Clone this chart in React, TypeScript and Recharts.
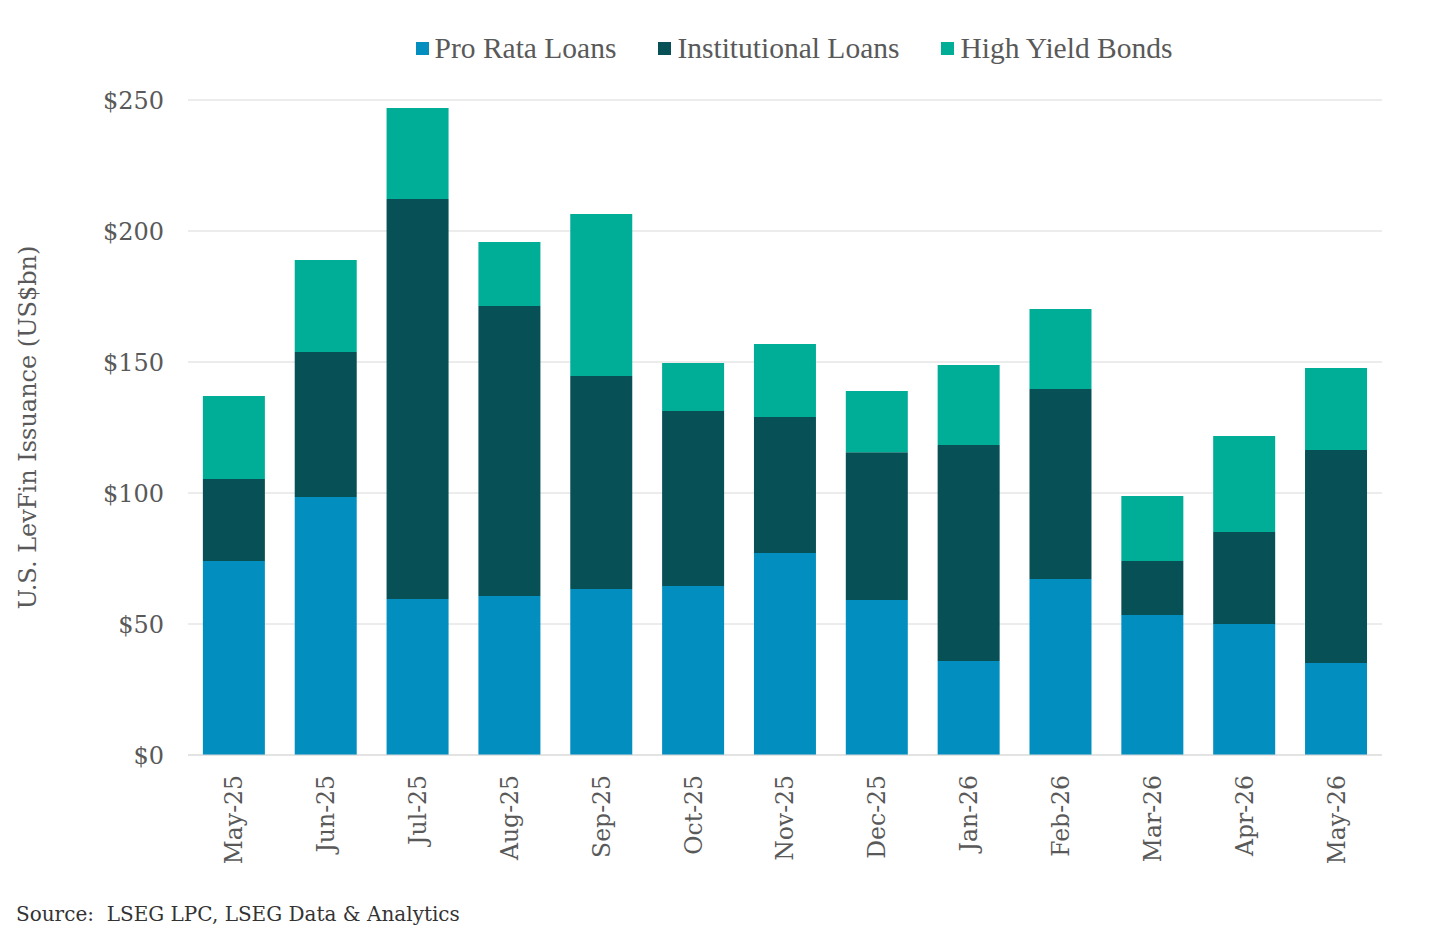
import { BarChart, Bar, XAxis, YAxis, CartesianGrid } from 'recharts';

const MONTHS = ['May-25', 'Jun-25', 'Jul-25', 'Aug-25', 'Sep-25', 'Oct-25', 'Nov-25', 'Dec-25', 'Jan-26', 'Feb-26', 'Mar-26', 'Apr-26', 'May-26'];
const PRO_RATA = [74.0, 98.5, 59.5, 60.7, 63.4, 64.5, 77.1, 59.2, 35.9, 67.2, 53.4, 50.0, 35.1];
const INSTITUTIONAL = [31.3, 55.3, 152.7, 110.7, 81.3, 66.8, 51.9, 56.4, 82.4, 72.5, 20.6, 35.1, 81.3];
const HIGH_YIELD = [31.7, 35.1, 34.7, 24.4, 61.8, 18.3, 27.9, 23.3, 30.6, 30.5, 24.9, 36.7, 31.3];
const Y_TICKS = [0, 50, 100, 150, 200, 250];

const COLORS = { pro: '#028fc0', inst: '#075056', hy: '#00ae97' };
const SERIF = '"DejaVu Serif", Georgia, serif';
const TEXT = '#595959';

const data = MONTHS.map((m, i) => ({
  month: m,
  pro: PRO_RATA[i],
  inst: INSTITUTIONAL[i],
  hy: HIGH_YIELD[i],
}));

const LEGEND = [
  { key: 'pro', label: 'Pro Rata Loans' },
  { key: 'inst', label: 'Institutional Loans' },
  { key: 'hy', label: 'High Yield Bonds' },
] as const;

function MonthTick({ x, y, payload }: any) {
  return (
    <text
      x={0}
      y={0}
      transform={`translate(${x},${y + 18}) rotate(-90)`}
      textAnchor="end"
      dy="0.36em"
      fill={TEXT}
      fontSize={23.5}
      fontFamily={SERIF}
    >
      {payload.value}
    </text>
  );
}

export default function App() {
  return (
    <div style={{ position: 'absolute', left: 0, top: 0, width: 1440, height: 944, background: '#fff', fontFamily: SERIF }}>
      <div style={{ position: 'absolute', top: 32, left: 0, width: 1440, display: 'flex', justifyContent: 'center', paddingLeft: 148, boxSizing: 'border-box' }}>
        {LEGEND.map((item) => (
          <div key={item.key} style={{ display: 'flex', alignItems: 'center', margin: '0 21px' }}>
            <span style={{ width: 13, height: 13, background: COLORS[item.key], marginRight: 6, display: 'inline-block' }} />
            <span style={{ fontFamily: '"Liberation Serif", serif', fontSize: 29.5, color: TEXT }}>{item.label}</span>
          </div>
        ))}
      </div>

      <BarChart
        width={1440}
        height={944}
        data={data}
        margin={{ top: 100, right: 58, bottom: 0, left: 0 }}
        barCategoryGap="16.2%"
      >
        <CartesianGrid vertical={false} stroke="#d9d9d9" strokeWidth={1.2} />
        <XAxis
          dataKey="month"
          axisLine={{ stroke: '#d9d9d9', strokeWidth: 1.2 }}
          tickLine={false}
          tickSize={0}
          interval={0}
          tick={<MonthTick />}
          height={189}
        />
        <YAxis
          width={188}
          domain={[0, 250]}
          ticks={Y_TICKS}
          axisLine={false}
          tickLine={false}
          tickSize={0}
          tickMargin={24}
          tickFormatter={(v) => `$${v}`}
          tick={{ fill: TEXT, fontSize: 24, fontFamily: SERIF }}
          label={{
            content: ({ viewBox }: any) => (
              <text
                x={0}
                y={0}
                transform={`translate(27,${viewBox.y + viewBox.height / 2}) rotate(-90)`}
                textAnchor="middle"
                dy="0.36em"
                fill={TEXT}
                fontSize={24}
                fontFamily={SERIF}
              >
                U.S. LevFin Issuance (US$bn)
              </text>
            ),
          }}
        />
        <Bar dataKey="pro" stackId="a" fill={COLORS.pro} isAnimationActive={false} />
        <Bar dataKey="inst" stackId="a" fill={COLORS.inst} isAnimationActive={false} />
        <Bar dataKey="hy" stackId="a" fill={COLORS.hy} isAnimationActive={false} />
      </BarChart>

      <div style={{ position: 'absolute', left: 16, top: 902, fontSize: 20, color: '#333', fontFamily: SERIF }}>
        Source:&nbsp; LSEG LPC, LSEG Data &amp; Analytics
      </div>
    </div>
  );
}
